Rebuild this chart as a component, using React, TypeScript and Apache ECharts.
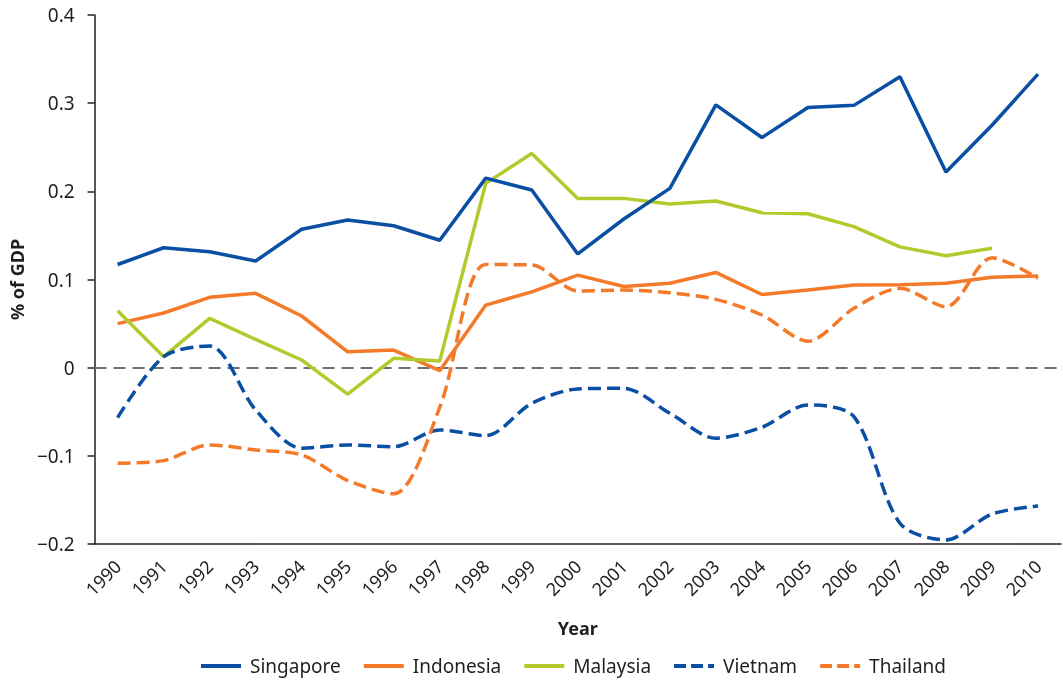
import React, { useEffect, useRef } from "react";
import * as echarts from "echarts";

const years = [
  "1990", "1991", "1992", "1993", "1994", "1995", "1996", "1997", "1998", "1999", "2000",
  "2001", "2002", "2003", "2004", "2005", "2006", "2007", "2008", "2009", "2010",
];

const singapore = [0.117, 0.136, 0.1315, 0.121, 0.157, 0.1675, 0.161, 0.1445, 0.215, 0.2015, 0.129,
  0.1686, 0.2034, 0.298, 0.261, 0.295, 0.2975, 0.33, 0.222, 0.275, 0.333];
const indonesia = [0.05, 0.062, 0.0798, 0.0843, 0.0586, 0.018, 0.02, -0.0034, 0.071, 0.086, 0.105,
  0.092, 0.0957, 0.108, 0.083, 0.088, 0.0938, 0.094, 0.0957, 0.1025, 0.104];
const malaysia = [0.0646, 0.0125, 0.056, 0.032, 0.0087, -0.03, 0.0106, 0.0076, 0.209, 0.243, 0.192,
  0.192, 0.1856, 0.189, 0.1757, 0.1746, 0.16, 0.137, 0.127, 0.1354, null];
const vietnam = [-0.0567, 0.0125, 0.0246, -0.048, -0.0914, -0.0877, -0.0896, -0.0706, -0.077, -0.0404, -0.0242,
  -0.0234, -0.0517, -0.08, -0.0676, -0.0423, -0.0556, -0.1764, -0.1954, -0.166, -0.157];
const thailand = [-0.1084, -0.1054, -0.0876, -0.0933, -0.099, -0.128, -0.143, -0.045, 0.117, 0.1164, 0.087,
  0.088, 0.085, 0.0775, 0.0597, 0.03, 0.0673, 0.09, 0.069, 0.1247, 0.1013];

const yTicks = { min: -0.2, max: 0.4, interval: 0.1 };

const BLUE = "#0a4fa3";
const ORANGE = "#f47a2a";
const GREEN = "#b5c92d";
const TEXT = "#231f20";
const FONT = "'Noto Sans', sans-serif";

export default function App() {
  const ref = useRef<HTMLDivElement>(null);
  useEffect(() => {
    if (!ref.current) return;
    const chart = echarts.init(ref.current, null, { renderer: "svg" });
    const dash = [13, 6];
    const legendDash = [12, 5];
    chart.setOption({
      animation: false,
      textStyle: { fontFamily: FONT, color: TEXT },
      grid: { left: 86, right: 2, top: 15, bottom: 138 },
      legend: {
        top: 655,
        left: 199,
        padding: 0,
        itemWidth: 40,
        itemHeight: 14,
        itemGap: 21,
        itemStyle: { opacity: 0 },
        lineStyle: { width: 4 },
        textStyle: { fontSize: 19, lineHeight: 22, color: TEXT, fontFamily: FONT, padding: [0, 0, 0, 4] },
        data: [
          { name: "Singapore" },
          { name: "Indonesia" },
          { name: "Malaysia" },
          { name: "Vietnam", lineStyle: { type: legendDash, width: 4 } },
          { name: "Thailand", lineStyle: { type: legendDash, width: 4 } },
        ],
      },
      xAxis: {
        type: "category",
        data: years,
        boundaryGap: true,
        name: "Year",
        nameLocation: "middle",
        nameGap: 75,
        nameTextStyle: { fontSize: 18, fontWeight: "bold", color: TEXT, fontFamily: FONT },
        axisLine: { onZero: false, lineStyle: { color: TEXT, width: 1.5 } },
        axisTick: { length: 7, lineStyle: { color: TEXT, width: 1.5 } },
        axisLabel: { rotate: 45, fontSize: 18, color: TEXT, margin: 19, interval: 0 },
      },
      yAxis: {
        type: "value",
        min: yTicks.min,
        max: yTicks.max,
        interval: yTicks.interval,
        name: "% of GDP",
        nameLocation: "middle",
        nameGap: 62,
        nameTextStyle: { fontSize: 18, fontWeight: "bold", color: TEXT, fontFamily: FONT },
        splitLine: { show: false },
        axisLine: { show: true, lineStyle: { color: TEXT, width: 1.5 } },
        axisTick: { show: true, length: 7, lineStyle: { color: TEXT, width: 1.5 } },
        axisLabel: {
          fontSize: 19,
          color: TEXT,
          margin: 20,
          formatter: (v: number) => {
            const r = Math.round(v * 10) / 10;
            if (r === 0) return "0";
            return r.toFixed(1).replace("-", "\u2212");
          },
        },
      },
      series: [
        {
          name: "Singapore",
          type: "line",
          data: singapore,
          symbol: "none",
          color: BLUE,
          lineStyle: { color: BLUE, width: 3.5 },
          z: 5,
          markLine: {
            silent: true,
            symbol: ["none", "none"],
            label: { show: false },
            lineStyle: { color: "#6d6e71", type: [12, 7], width: 2 },
            data: [{ yAxis: 0 }],
            z: 1,
          },
        },
        {
          name: "Indonesia",
          type: "line",
          data: indonesia,
          symbol: "none",
          color: ORANGE,
          lineStyle: { color: ORANGE, width: 3.5 },
        },
        {
          name: "Malaysia",
          type: "line",
          data: malaysia,
          symbol: "none",
          color: GREEN,
          lineStyle: { color: GREEN, width: 3.5 },
        },
        {
          name: "Vietnam",
          type: "line",
          data: vietnam,
          symbol: "none",
          smooth: 0.3,
          color: BLUE,
          lineStyle: { color: BLUE, width: 3.5, type: dash },
        },
        {
          name: "Thailand",
          type: "line",
          data: thailand,
          symbol: "none",
          smooth: 0.3,
          color: ORANGE,
          lineStyle: { color: ORANGE, width: 3.5, type: dash },
        },
      ],
    });
    return () => chart.dispose();
  }, []);
  return (
    <div
      ref={ref}
      style={{ position: "fixed", left: 0, top: 0, width: 1063, height: 682 }}
    />
  );
}
